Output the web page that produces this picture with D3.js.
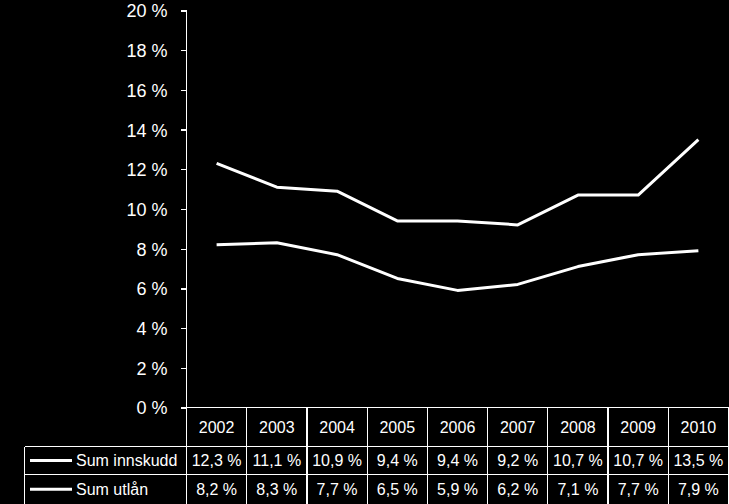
<!DOCTYPE html>
<meta charset="utf-8">
<head>
	<title> Innskudd og utlån </title>
	<style>
		body { margin: 0; background: #000; }
		svg { display: block; }
		text { fill: #fff; font-family: "Liberation Sans", Arial, sans-serif; }
		.grid line, .grid path { stroke: #fff; stroke-width: 1.3px; shape-rendering: crispEdges; }
		.serie { fill: none; stroke: #fff; stroke-width: 3px; stroke-linejoin: round; }
	</style>
</head>
<body>
	<div id="chart"></div>
</body>

<script src="https://cdnjs.cloudflare.com/ajax/libs/d3/7.8.5/d3.min.js"></script>

<script type="text/javascript">

	// Data
	var years = ["2002", "2003", "2004", "2005", "2006", "2007", "2008", "2009", "2010"];
	var seriesNames = ["Sum innskudd", "Sum utlån"];
	var innskudd = [12.3, 11.1, 10.9, 9.4, 9.4, 9.2, 10.7, 10.7, 13.5];
	var utlan = [8.2, 8.3, 7.7, 6.5, 5.9, 6.2, 7.1, 7.7, 7.9];
	var yTicks = [0, 2, 4, 6, 8, 10, 12, 14, 16, 18, 20];

	var series = [innskudd, utlan];

	var width = 729;
	var height = 504;

	var svg = d3.select("#chart").append("svg")
		.attr("width", width)
		.attr("height", height);

	var x = d3.scaleBand().domain(years).range([186.5, 728.5]);
	var y = d3.scaleLinear().domain([0, 20]).range([407.5, 10.5]);

	var pct = function (v) { return String(v).replace(".", ",") + " %"; };
	var fmt = function (v) { return v.toFixed(1).replace(".", ",") + " %"; };

	// Y axis
	var yAxis = svg.append("g")
		.attr("class", "grid")
		.attr("transform", "translate(186.5,0)")
		.call(d3.axisLeft(y).tickValues(yTicks).tickSize(6).tickPadding(13).tickFormat(pct));
	yAxis.select(".domain").attr("d", "M0," + y(20) + "V" + height);
	yAxis.selectAll("text")
		.style("font-size", "18px")
		.attr("dy", "0.36em");

	// Lines
	var line = d3.line()
		.x(function (d, i) { return x(years[i]) + x.bandwidth() / 2; })
		.y(function (d) { return y(d); });

	svg.selectAll(".serie")
		.data(series)
		.enter()
		.append("path")
		.attr("class", "serie")
		.attr("d", line);

	// Data table
	var rowTop = [407.5, 446.5, 474.5];
	var rowBottom = [446.5, 474.5, 504];
	var tableLeft = 24.5;
	var grid = svg.append("g").attr("class", "grid");

	// horizontal lines
	grid.append("line").attr("x1", 180.5).attr("x2", 728.5).attr("y1", rowTop[0]).attr("y2", rowTop[0]);
	grid.append("line").attr("x1", tableLeft).attr("x2", 728.5).attr("y1", rowTop[1]).attr("y2", rowTop[1]);
	grid.append("line").attr("x1", tableLeft).attr("x2", 728.5).attr("y1", rowTop[2]).attr("y2", rowTop[2]);

	// vertical lines
	grid.selectAll(".col")
		.data(years)
		.enter()
		.append("line")
		.attr("x1", function (d) { return x(d) + x.bandwidth(); })
		.attr("x2", function (d) { return x(d) + x.bandwidth(); })
		.attr("y1", rowTop[0])
		.attr("y2", height);
	grid.append("line").attr("x1", tableLeft).attr("x2", tableLeft).attr("y1", rowTop[1]).attr("y2", height);

	// header
	svg.selectAll(".year")
		.data(years)
		.enter()
		.append("text")
		.attr("x", function (d) { return x(d) + x.bandwidth() / 2; })
		.attr("y", (rowTop[0] + rowBottom[0]) / 2)
		.attr("dy", "0.36em")
		.attr("text-anchor", "middle")
		.style("font-size", "16px")
		.text(function (d) { return d; });

	// rows
	series.forEach(function (vals, r) {
		var cy = (rowTop[r + 1] + rowBottom[r + 1]) / 2;
		svg.append("line")
			.attr("x1", 30).attr("x2", 72)
			.attr("y1", cy).attr("y2", cy)
			.attr("stroke", "#fff")
			.attr("stroke-width", 3);
		svg.append("text")
			.attr("x", 76)
			.attr("y", cy)
			.attr("dy", "0.36em")
			.style("font-size", "16px")
			.text(seriesNames[r]);
		svg.selectAll(".v" + r)
			.data(vals)
			.enter()
			.append("text")
			.attr("x", function (d, i) { return x(years[i]) + x.bandwidth() / 2; })
			.attr("y", cy)
			.attr("dy", "0.36em")
			.attr("text-anchor", "middle")
			.style("font-size", "16px")
			.text(fmt);
	});

</script>
